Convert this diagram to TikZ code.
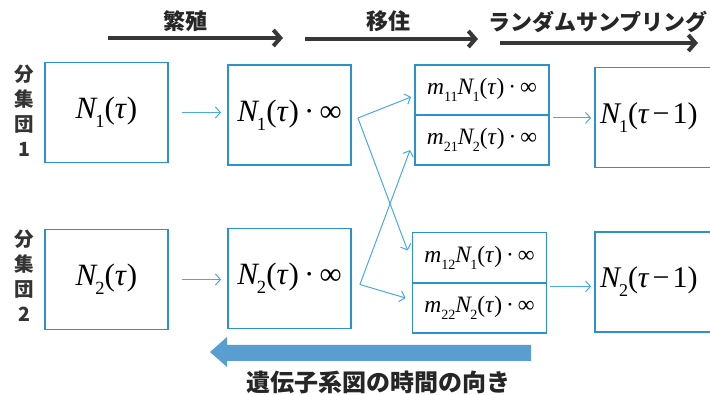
\documentclass[tikz,border=0pt]{standalone}
\usepackage{fontspec}
\setmainfont{Liberation Serif}
\newfontfamily\jp{Noto Sans CJK JP}
\usetikzlibrary{arrows.meta}
\definecolor{boxblue}{RGB}{45,145,205}
\definecolor{lineblue}{RGB}{75,170,220}
\definecolor{bigblue}{RGB}{88,158,208}
\definecolor{darkarr}{RGB}{55,55,55}
\newcommand\sbs[1]{\raisebox{-0.3em}{\scalebox{0.6}{#1}}}
\newcommand\Nv[1]{\textit{N}\kern-0.08em\sbs{#1}}
\newcommand\mv[1]{\textit{m}\sbs{#1}}
\newcommand\tv{\textit{τ}}
\begin{document}
\begin{tikzpicture}[x=1pt,y=-1pt,
  bigbox/.style={draw=boxblue,line width=1.8pt,minimum width=123pt,minimum height=100pt,inner sep=0pt,font=\fontsize{31}{34}\selectfont},
  endbox/.style={bigbox,minimum width=140pt,text width=130pt,inner xsep=5pt,align=left,font=\fontsize{30}{34}\selectfont},
  halfbox/.style={draw=boxblue,line width=1.8pt,minimum width=134pt,minimum height=50pt,inner sep=0pt,font=\fontsize{23.5}{26}\selectfont},
  flow/.style={draw=lineblue,line width=1pt,-{Straight Barb[length=5pt,width=11pt]}},
  stage/.style={draw=darkarr,line width=4pt,-{Straight Barb[length=7pt,width=16pt]}},
  jplabel/.style={font=\jp\bfseries\fontsize{22}{26}\selectfont,text=black!85,inner sep=0pt},
  side/.style={font=\jp\bfseries\fontsize{19.5}{25}\selectfont,align=center,inner sep=0pt,text=black!80}]
\useasboundingbox (0,0) rectangle (710,395);
\fill[white] (0,0) rectangle (710,395);
\clip (0,0) rectangle (710,395);

% side labels
\node[side] (L1) at (24,111) {分\\集\\団\\1};
\node[side] (L2) at (24,276) {分\\集\\団\\2};

% row 1
\node[bigbox] (A1) at (106.5,112.5) {\Nv{1}(\tv)};
\node[bigbox] (B1) at (289.5,115) {\Nv{1}(\tv)\,·\,∞};
\node[halfbox] (C1a) at (482,90) {\mv{11}\Nv{1}(\tv)\,·\,∞};
\node[halfbox] (C1b) at (482,140) {\mv{21}\Nv{2}(\tv)\,·\,∞};
\node[endbox] (D1) at (665,117.5) {\Nv{1}(\tv\kern3pt−\kern3pt1)};

% row 2
\node[bigbox] (A2) at (106.5,279.5) {\Nv{2}(\tv)};
\node[bigbox] (B2) at (289.5,278.5) {\Nv{2}(\tv)\,·\,∞};
\node[halfbox] (C2a) at (479.5,257.5) {\mv{12}\Nv{1}(\tv)\,·\,∞};
\node[halfbox] (C2b) at (479.5,308) {\mv{22}\Nv{2}(\tv)\,·\,∞};
\node[endbox] (D2) at (665,282) {\Nv{2}(\tv\kern3pt−\kern3pt1)};

% thin flows
\draw[flow,shorten <=13pt,shorten >=6pt] (A1.east) -- (A1.east -| B1.west);
\draw[flow,shorten <=13pt,shorten >=6pt] (A2.east) -- (A2.east -| B2.west);
\draw[flow] ([xshift=6pt,yshift=-3pt]B1.east) -- ([xshift=-3pt,yshift=-7pt]C1a.west);
\draw[flow] ([xshift=6pt,yshift=-3pt]B1.east) -- ([xshift=-4pt,yshift=7pt]C2a.west);
\draw[flow] ([xshift=8pt,yshift=-6pt]B2.east) -- ([xshift=-4pt,yshift=-10pt]C1b.west);
\draw[flow] ([xshift=8pt,yshift=-6pt]B2.east) -- ([xshift=-6pt,yshift=10pt]C2b.west);
\draw[flow,shorten <=3pt,shorten >=3pt] ([yshift=-2pt]C1a.south east) -- ([yshift=-2pt]C1a.south east -| D1.west);
\draw[flow,shorten <=3pt,shorten >=3pt] ([yshift=-3pt]C2a.south east) -- ([yshift=-3pt]C2a.south east -| D2.west);

% stage arrows
\coordinate (s1a) at (108,38); \coordinate (s1b) at (283,38);
\coordinate (s2a) at (305,39); \coordinate (s2b) at (478,39);
\coordinate (s3a) at (500,43); \coordinate (s3b) at (698,43);
\draw[stage] (s1a) -- (s1b);
\draw[stage] (s2a) -- (s2b);
\draw[stage] (s3a) -- (s3b);
\node[jplabel] (t1) at (185,21) {繁殖};
\node[jplabel] (t2) at (388,21) {移住};
\node[jplabel] (t3) at (598,22) {ランダムサンプリング};

% time direction
\fill[bigblue] (531,345) -- (227,345) -- (227,337) -- (210,352) -- (227,367) -- (227,361) -- (531,361) -- cycle;
\node[jplabel,font=\jp\bfseries\fontsize{24}{28}\selectfont] (t4) at (378,382) {遺伝子系図の時間の向き};
\end{tikzpicture}
\end{document}
